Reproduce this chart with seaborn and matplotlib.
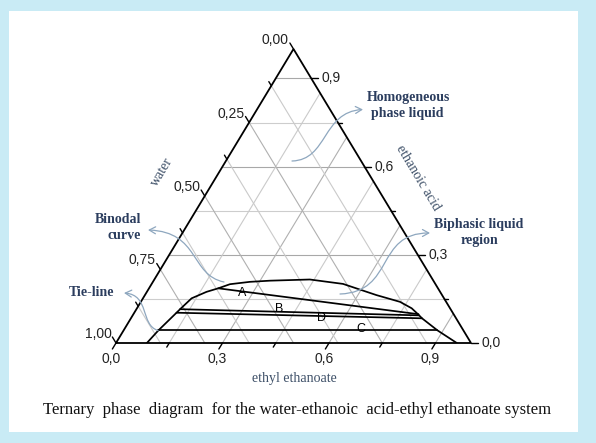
import matplotlib
matplotlib.use("Agg")
import matplotlib.pyplot as plt
import numpy as np
import pandas as pd
import seaborn as sns
from matplotlib.patches import FancyArrowPatch, Rectangle
from matplotlib.path import Path
from matplotlib.transforms import Affine2D

# ---------------- data (mass fractions) ----------------
binodal_ester = [0.087, 0.098, 0.119, 0.123, 0.137, 0.168, 0.195, 0.221, 0.273, 0.328,
                 0.438, 0.539, 0.652, 0.730, 0.774, 0.803, 0.820, 0.884, 0.960]
binodal_acid = [0.000, 0.043, 0.103, 0.115, 0.152, 0.174, 0.186, 0.200, 0.208, 0.212,
                0.216, 0.201, 0.163, 0.140, 0.118, 0.097, 0.084, 0.043, 0.000]

tie_names = ["A", "B", "D", "C"]
tie_left_ester = [0.195, 0.123, 0.119, 0.098]
tie_left_acid = [0.186, 0.115, 0.103, 0.043]
tie_right_ester = [0.803, 0.806, 0.820, 0.884]
tie_right_acid = [0.098, 0.094, 0.084, 0.043]
tie_label_ester = [0.270, 0.403, 0.537, 0.666]
tie_label_acid = [0.169, 0.115, 0.084, 0.047]

ester_ticks = [0.0, 0.3, 0.6, 0.9]
ester_ticklabels = ["0,0", "0,3", "0,6", "0,9"]
ester_minor = [0.15, 0.45, 0.75]
acid_ticks = [0.0, 0.3, 0.6, 0.9]
acid_ticklabels = ["0,0", "0,3", "0,6", "0,9"]
acid_minor = [0.15, 0.45, 0.75]
water_ticks = [0.0, 0.25, 0.5, 0.75, 1.0]
water_ticklabels = ["0,00", "0,25", "0,50", "0,75", "1,00"]
water_minor = [0.125, 0.375, 0.625, 0.875]

acid_grid = [0.15, 0.30, 0.45, 0.60, 0.75, 0.90]
ester_grid = [0.15, 0.30, 0.45, 0.60, 0.75, 0.90]
water_grid = [0.125, 0.25, 0.375, 0.5, 0.625, 0.75, 0.875]
major_acid = [0.30, 0.60, 0.90]
major_ester = [0.30, 0.60, 0.90]
major_water = [0.25, 0.5, 0.75]

title = "Ternary  phase  diagram  for the water-ethanoic  acid-ethyl ethanoate system"

# ---------------- style ----------------
sns.set_style("white")
plt.rcParams["font.family"] = ["Liberation Sans", "DejaVu Sans"]
SERIF = ["Liberation Serif", "DejaVu Serif"]
SANS = ["Liberation Sans", "DejaVu Sans"]
AX_TXT = "#3e5068"
NOTE_TXT = "#2b3d5e"
ARROW_C = "#8ea7bf"

W, H = 596, 443
fig = plt.figure(figsize=(W / 100, H / 100), dpi=100)
fig.patch.set_facecolor("#c9ebf5")
pix = Affine2D().scale(1 / W, -1 / H).translate(0, 1) + fig.transFigure
fig.add_artist(Rectangle((9, 11), 569, 421, transform=pix, facecolor="white",
                         edgecolor="none", zorder=0))

# triangle: left vertex (116,343), right (471,343), apex (293.5,49)
ax = fig.add_axes([116 / W, (H - 343) / H, 355 / W, 294 / H])
ax.set_xlim(0, 1)
ax.set_ylim(0, 1)
ax.axis("off")
ax.patch.set_alpha(0)


def cart(e, a):
    e = np.asarray(e, dtype=float)
    a = np.asarray(a, dtype=float)
    return e + a / 2, a


# grid
for a in acid_grid:
    c = "#a8a8a8" if a in major_acid else "#cdcdcd"
    ax.plot([a / 2, 1 - a / 2], [a, a], color=c, lw=0.8, zorder=1)
for e in ester_grid:
    c = "#b0b0b0" if e in major_ester else "#cacaca"
    ax.plot([e, e + (1 - e) / 2], [0, 1 - e], color=c, lw=0.8, zorder=1)
for w in water_grid:
    c = "#b0b0b0" if w in major_water else "#cacaca"
    ax.plot([1 - w, (1 - w) / 2], [0, 1 - w], color=c, lw=0.8, zorder=1)

# frame
ax.plot([0, 1, 0.5, 0], [0, 0, 1, 0], color="black", lw=1.3, zorder=4,
        clip_on=False, solid_joinstyle="miter")

# ticks
TMAJ, TMIN = 0.0204, 0.0140
for e in ester_ticks + ester_minor:
    t = TMAJ if e in ester_ticks else TMIN
    ax.plot([e, e - t / 2], [0, -t], color="black", lw=1.0, clip_on=False, zorder=4)
for a in acid_ticks + acid_minor:
    L = (7 if a in acid_ticks else 4) / 355
    x0 = 1 - a / 2
    ax.plot([x0, x0 + L], [a, a], color="black", lw=1.0, clip_on=False, zorder=4)
for w in water_ticks + water_minor:
    t = TMAJ if w in water_ticks else TMIN
    a = 1 - w
    ax.plot([a / 2, a / 2 - t / 2], [a, a + t], color="black", lw=1.0,
            clip_on=False, zorder=4)

# tick labels
for e, lab in zip(ester_ticks, ester_ticklabels):
    ax.annotate(lab, xy=(e, 0), xytext=(-5, -16), textcoords="offset pixels",
                ha="center", va="center", fontsize=10, color="#222222",
                family=SANS, annotation_clip=False)
for a, lab in zip(acid_ticks, acid_ticklabels):
    ax.annotate(lab, xy=(1 - a / 2, a), xytext=(20, 0), textcoords="offset pixels",
                ha="center", va="center", fontsize=10, color="#222222",
                family=SANS, annotation_clip=False)
for w, lab in zip(water_ticks, water_ticklabels):
    a = 1 - w
    ax.annotate(lab, xy=(a / 2, a), xytext=(-18, 9), textcoords="offset pixels",
                ha="center", va="center", fontsize=10, color="#222222",
                family=SANS, annotation_clip=False)

# binodal curve
bx, by = cart(binodal_ester, binodal_acid)
sns.lineplot(x=bx, y=by, sort=False, estimator=None, color="black", lw=1.25,
             ax=ax, legend=False, zorder=5)

# tie lines
rows = []
for n, el, al, er, ar in zip(tie_names, tie_left_ester, tie_left_acid,
                             tie_right_ester, tie_right_acid):
    for e, a in ((el, al), (er, ar)):
        x, y = cart(e, a)
        rows.append({"line": n, "X": float(x), "Y": float(y)})
ties = pd.DataFrame(rows)
sns.lineplot(data=ties, x="X", y="Y", units="line", estimator=None, sort=False,
             color="black", lw=1.25, ax=ax, legend=False, zorder=5)

lx, ly = cart(tie_label_ester, tie_label_acid)
for n, x, y in zip(tie_names, lx, ly):
    ax.text(x, y, n, ha="center", va="center", fontsize=9, family=SANS,
            color="black", zorder=6)

# axis titles
fig.text(161.7, 171.7, "water", transform=pix, rotation=59, ha="center",
         va="center", fontsize=10, family=SERIF, color=AX_TXT)
fig.text(418, 178, "ethanoic acid", transform=pix, rotation=-59, ha="center",
         va="center", fontsize=10, family=SERIF, color=AX_TXT)
fig.text(294, 379, "ethyl ethanoate", transform=pix, ha="center", va="center",
         fontsize=10, family=SERIF, color=AX_TXT)

# annotations
notes = [("Homogeneous", 408, 97.5), ("phase liquid", 407, 113),
         ("Binodal", 117.5, 220), ("curve", 124.5, 236),
         ("Tie-line", 92, 293),
         ("Biphasic liquid", 479, 225), ("region", 479, 240.5)]
for s, x, y in notes:
    fig.text(x, y, s, transform=pix, ha="center", va="center", fontsize=10,
             family=SERIF, fontweight="bold", color=NOTE_TXT)

arrows = [
    [(292, 161), (328, 160), (322, 112), (363, 109.5)],
    [(224, 282), (190, 275), (200, 232), (148, 230)],
    [(158, 330.5), (140, 325), (150, 295), (124, 293)],
    [(340, 294), (395, 292), (375, 233), (430, 233)],
]
for verts in arrows:
    p = Path(verts, [Path.MOVETO, Path.CURVE4, Path.CURVE4, Path.CURVE4])
    fig.add_artist(FancyArrowPatch(path=p, transform=pix,
                                   arrowstyle="->,head_length=0.45,head_width=0.25",
                                   mutation_scale=10, color=ARROW_C, lw=0.9,
                                   zorder=3))

fig.text(297, 410.5, title, transform=pix, ha="center", va="center",
         fontsize=12, family=SERIF, color="#111111")

fig.savefig("out.png", dpi=100, facecolor=fig.get_facecolor())
